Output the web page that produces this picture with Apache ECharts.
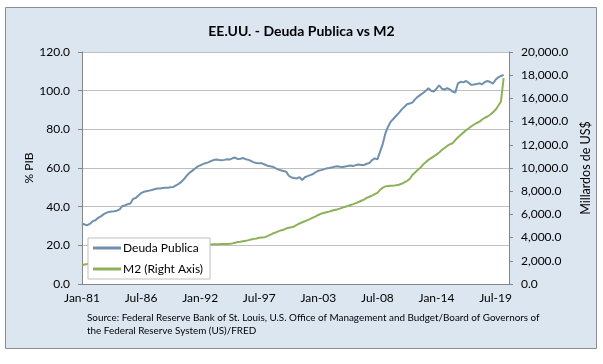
<!DOCTYPE html>
<html>
<head>
<meta charset="utf-8">
<script src="https://cdn.jsdelivr.net/npm/echarts@6/dist/echarts.min.js"></script>
<style>
html,body{margin:0;padding:0;background:#fff;}
#c{width:603px;height:364px;}
</style>
</head>
<body>
<div id="c"></div>
<script>
// Quarterly categories Jan-81 .. Oct-20
var monthNames = ['Jan','Apr','Jul','Oct'];
var startYear = 1981, endYear = 2020;
var categories = [];
for (var y = startYear; y <= endYear; y++) {
  for (var q = 0; q < 4; q++) {
    categories.push(monthNames[q] + '-' + String(y).slice(2));
  }
}
var tickLabels = ['Jan-81','Jul-86','Jan-92','Jul-97','Jan-03','Jul-08','Jan-14','Jul-19'];

// Deuda Publica (% PIB), quarterly from Jan-81
var deudaPublica = [
31.3,30.8,30.4,31.2,32.5,33.0,34.2,35.0,36.0,36.8,
37.3,37.5,37.6,37.9,38.6,40.3,40.6,41.3,41.6,44.0,
44.5,45.8,47.0,47.7,48.0,48.3,48.6,49.0,49.4,49.4,
49.6,49.8,49.8,50.0,50.2,51.0,51.8,52.8,54.3,56.0,
57.5,58.5,59.6,60.7,61.4,62.0,62.5,62.9,63.6,64.1,
64.4,64.1,64.0,64.2,64.5,64.4,65.0,65.4,64.6,64.8,
65.2,64.5,64.2,63.6,62.9,62.6,62.5,62.4,61.8,61.2,
60.9,60.7,59.9,59.3,58.8,58.5,58.1,56.0,55.1,54.8,
54.6,55.3,53.8,55.2,55.8,56.3,56.9,57.8,58.6,58.9,
59.3,59.8,60.0,60.3,60.7,60.9,60.6,60.5,60.8,61.0,
61.3,61.0,61.5,61.8,61.6,61.5,62.2,62.6,64.1,65.0,
64.5,68.5,72.5,78.0,81.5,84.0,85.5,87.0,88.5,90.2,
91.5,93.0,93.4,93.8,95.5,96.8,97.8,98.8,100.0,101.3,
100.0,99.6,101.0,102.8,101.0,100.6,101.3,100.6,99.5,99.0,
103.8,104.6,104.3,105.0,104.0,103.0,103.2,103.4,103.8,103.3,
104.5,105.0,104.5,103.6,105.6,106.9,107.6,108.2
];

// M2 (Millardos de US$), quarterly from Jan-81
var m2 = [
1614,1680,1720,1780,1830,1880,1920,1960,2060,2120,
2160,2190,2230,2280,2320,2360,2410,2460,2520,2560,
2610,2670,2740,2790,2820,2840,2860,2890,2930,2970,
3000,3020,3040,3070,3110,3150,3190,3220,3240,3260,
3280,3300,3320,3330,3340,3370,3390,3400,3410,3420,
3420,3430,3440,3450,3450,3460,3500,3560,3620,3640,
3680,3720,3780,3840,3890,3930,3980,4010,4040,4120,
4230,4350,4430,4540,4620,4680,4780,4850,4890,4960,
5090,5216,5320,5410,5505,5610,5720,5830,5950,6060,
6120,6180,6240,6310,6380,6430,6500,6580,6657,6730,
6810,6888,6970,7070,7176,7280,7420,7522,7620,7740,
7860,8120,8300,8415,8450,8473,8480,8510,8560,8640,
8760,8877,9050,9395,9620,9828,10020,10300,10500,10700,
10850,11000,11150,11330,11560,11720,11900,12050,12133,12400,
12650,12850,13050,13250,13420,13600,13750,13880,13990,14180,
14330,14438,14590,14800,15015,15361,15735,17753
];

var titleText = 'EE.UU. - Deuda Publica vs M2';
var sourceLine1 = 'Source: Federal Reserve Bank of St. Louis, U.S. Office of Management and Budget/Board of Governors of';
var sourceLine2 = 'the Federal Reserve System (US)/FRED';

var FONT = 'Lato';
var axisGray = '#868686';
var chart = echarts.init(document.getElementById('c'), null, {renderer:'canvas'});
chart.setOption({
  backgroundColor: '#ffffff',
  animation: false,
  graphic: [
    {type:'rect', z:-100, silent:true,
     shape:{x:5.5, y:7.5, width:591, height:341},
     style:{fill:'#DCE6F1', stroke:'#8C8C8C', lineWidth:1}},
    {type:'text', left:87, top:313, z:10, silent:true,
     style:{text:sourceLine1, fontFamily:FONT, fontSize:9.9, fill:'#000'}},
    {type:'text', left:87, top:326, z:10, silent:true,
     style:{text:sourceLine2, fontFamily:FONT, fontSize:9.9, fill:'#000'}}
  ],
  title: {
    text: titleText, left: 'center', top: 19,
    textStyle: {fontFamily: FONT, fontSize: 14, fontWeight: 'bold', color: '#000'}
  },
  legend: {
    orient: 'vertical', left: 88, top: 238,
    backgroundColor: '#ffffff', borderColor: '#BFBFBF', borderWidth: 1,
    padding: [4, 7, 4, 5], itemGap: 9, itemWidth: 28, itemHeight: 3,
    icon: 'rect',
    textStyle: {fontFamily: FONT, fontSize: 12, color: '#000', padding:[0,0,0,-3]},
    data: ['Deuda Publica', 'M2 (Right Axis)']
  },
  grid: {left: 82, right: 94, top: 52, bottom: 80, show: true, backgroundColor: '#ffffff', borderWidth: 0},
  xAxis: {
    type: 'category', data: categories, boundaryGap: false,
    axisLine: {lineStyle: {color: axisGray}},
    axisTick: {show: false},
    axisLabel: {
      interval: function(i, v){ return tickLabels.indexOf(v) >= 0; },
      fontFamily: FONT, fontSize: 12, color: '#000', margin: 8
    },
    splitLine: {show: false}
  },
  yAxis: [
    {
      type: 'value', min: 0, max: 120, interval: 20, position: 'left',
      name: '% PIB', nameLocation: 'middle', nameGap: 47, nameRotate: 90, nameMoveOverlap: false,
      nameTextStyle: {fontFamily: FONT, fontSize: 12, color: '#000'},
      axisLine: {show: true, lineStyle: {color: axisGray}},
      axisTick: {show: true, length: 4, lineStyle: {color: axisGray}},
      axisLabel: {formatter: function(v){ return v.toFixed(1); }, fontFamily: FONT, fontSize: 12, color: '#000', margin: 12},
      splitLine: {show: true, lineStyle: {color: '#BFBFBF', width: 1}}
    },
    {
      type: 'value', min: 0, max: 20000, interval: 2000, position: 'right',
      name: 'Millardos de US$', nameLocation: 'middle', nameGap: 70, nameRotate: 90, nameMoveOverlap: false,
      nameTextStyle: {fontFamily: FONT, fontSize: 12.5, color: '#000'},
      axisLine: {show: true, lineStyle: {color: axisGray}},
      axisTick: {show: true, length: 4, lineStyle: {color: axisGray}},
      axisLabel: {formatter: function(v){ return v.toLocaleString('en-US', {minimumFractionDigits:1, maximumFractionDigits:1}); }, fontFamily: FONT, fontSize: 12, color: '#000', margin: 12},
      splitLine: {show: false}
    }
  ],
  series: [
    {name: 'Deuda Publica', type: 'line', yAxisIndex: 0, data: deudaPublica,
     symbol: 'none', lineStyle: {color: '#7090AE', width: 2}, itemStyle: {color: '#7090AE'}},
    {name: 'M2 (Right Axis)', type: 'line', yAxisIndex: 1, data: m2,
     symbol: 'none', lineStyle: {color: '#8CB158', width: 2}, itemStyle: {color: '#8CB158'}}
  ]
});
</script>
</body>
</html>
